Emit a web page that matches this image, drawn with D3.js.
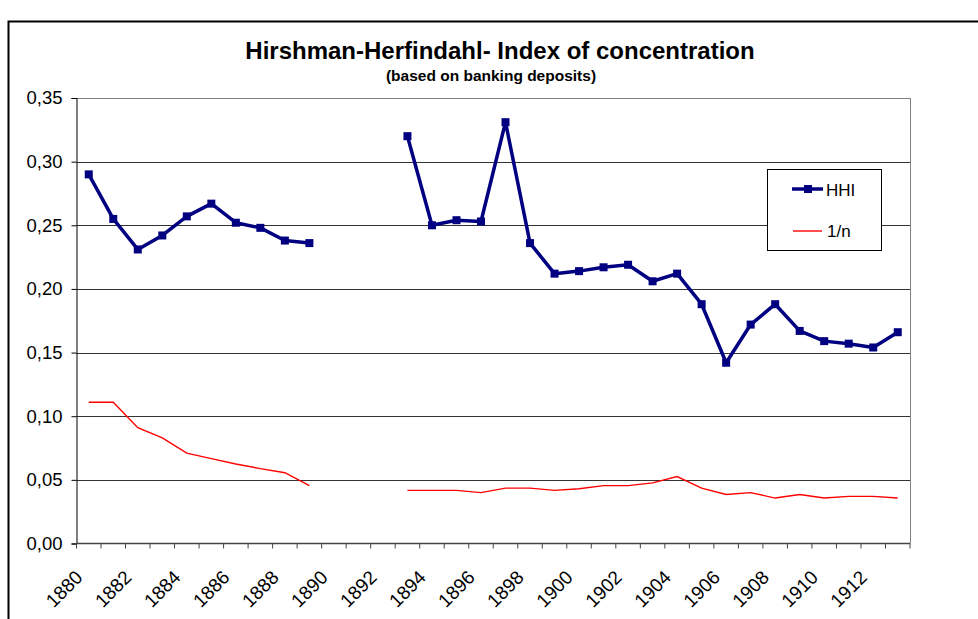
<!DOCTYPE html>
<html>
 <head>
    <title>Hirshman-Herfindahl Index</title>
    <script src="https://d3js.org/d3.v7.min.js"></script>
    <style>
      body { margin: 0; background: #fff; }
      text { font-family: "Liberation Sans", Arial, sans-serif; }
    </style>
 </head>
 <body>
    <div id="chart"></div>
    <script>
      // years on the category axis
      var years = d3.range(1880, 1914);

      // HHI values (null = no data)
      var hhi = [0.290, 0.255, 0.231, 0.242, 0.257, 0.267, 0.252, 0.248, 0.238, 0.236,
                 null, null, null,
                 0.320, 0.250, 0.254, 0.253, 0.331, 0.236, 0.212, 0.214, 0.217, 0.219, 0.206,
                 0.212, 0.188, 0.142, 0.172, 0.188, 0.167, 0.159, 0.157, 0.154, 0.166];

      // 1/n values
      var inverseN = [0.111, 0.111, 0.091, 0.083, 0.071, 0.0667, 0.0625, 0.0588, 0.0556, 0.0455,
                      null, null, null,
                      0.0417, 0.0417, 0.0417, 0.040, 0.0435, 0.0435, 0.0417, 0.0430, 0.0455, 0.0455, 0.0476,
                      0.0526, 0.0435, 0.0385, 0.040, 0.0357, 0.0385, 0.0357, 0.037, 0.037, 0.0357];

      var yTicks = [0, 0.05, 0.10, 0.15, 0.20, 0.25, 0.30, 0.35];
      var xLabels = years.filter(function (d) { return d % 2 === 0; });

      var width = 978;
      var height = 619;
      var plot = { left: 76.5, right: 910, top: 98, bottom: 543.5 };

      var svg = d3.select("#chart")
        .append("svg")
        .attr("width", width)
        .attr("height", height);

      // outer frame of the chart
      svg.append("rect")
        .attr("x", 8.5)
        .attr("y", 21.5)
        .attr("width", 1000)
        .attr("height", 700)
        .attr("fill", "none")
        .attr("stroke", "#000")
        .attr("stroke-width", 2);

      var x = d3.scaleBand()
        .domain(years)
        .range([plot.left, plot.right]);

      var y = d3.scaleLinear()
        .domain([0, 0.35])
        .range([plot.bottom, plot.top]);

      // gridlines
      svg.append("g")
        .selectAll("line")
        .data(yTicks.filter(function (d) { return d > 0; }))
        .enter()
        .append("line")
        .attr("x1", plot.left)
        .attr("x2", plot.right)
        .attr("y1", function (d) { return Math.round(y(d)) + 0.5; })
        .attr("y2", function (d) { return Math.round(y(d)) + 0.5; })
        .attr("stroke", function (d) { return d === 0.35 ? "#808080" : "#333"; })
        .attr("stroke-width", 1);

      // right border of plot area
      svg.append("line")
        .attr("x1", plot.right + 0.5)
        .attr("x2", plot.right + 0.5)
        .attr("y1", plot.top)
        .attr("y2", plot.bottom)
        .attr("stroke", "#808080");

      // y axis
      var yAxis = svg.append("g")
        .attr("transform", "translate(" + plot.left + ",0)")
        .call(d3.axisLeft(y)
          .tickValues(yTicks)
          .tickSize(5)
          .tickPadding(9)
          .tickFormat(function (d) { return d3.format(".2f")(d).replace(".", ","); }));
      yAxis.select(".domain").attr("stroke", "#000");
      yAxis.selectAll(".tick line").attr("stroke", "#000");
      yAxis.selectAll("text")
        .attr("font-size", "18.5px")
        .attr("font-family", "Liberation Sans, Arial, sans-serif")
        .attr("fill", "#000");

      // x axis line and ticks between categories
      var xAxis = svg.append("g");
      xAxis.append("line")
        .attr("x1", plot.left)
        .attr("x2", plot.right)
        .attr("y1", plot.bottom)
        .attr("y2", plot.bottom)
        .attr("stroke", "#444")
        .attr("stroke-width", 1.5);
      xAxis.selectAll(".xtick")
        .data(years.concat([null]))
        .enter()
        .append("line")
        .attr("class", "xtick")
        .attr("x1", function (d) { return d === null ? plot.right : x(d); })
        .attr("x2", function (d) { return d === null ? plot.right : x(d); })
        .attr("y1", plot.bottom)
        .attr("y2", plot.bottom + 5)
        .attr("stroke", "#444");
      xAxis.selectAll(".xlabel")
        .data(xLabels)
        .enter()
        .append("text")
        .attr("class", "xlabel")
        .attr("text-anchor", "end")
        .attr("font-size", "19px")
        .attr("transform", function (d) {
          return "translate(" + (x(d) + x.bandwidth() / 2 - 5) + "," + (plot.bottom + 35) + ") rotate(-45)";
        })
        .text(function (d) { return d; });

      // lines
      var hhiData = years.map(function (d, i) { return { year: d, v: hhi[i] }; });
      var invData = years.map(function (d, i) { return { year: d, v: inverseN[i] }; });

      var line = d3.line()
        .defined(function (d) { return d.v !== null; })
        .x(function (d) { return x(d.year) + x.bandwidth() / 2; })
        .y(function (d) { return y(d.v); });

      svg.append("path")
        .datum(invData)
        .attr("d", line)
        .attr("fill", "none")
        .attr("stroke", "#ff0000")
        .attr("stroke-width", 1.4);

      svg.append("path")
        .datum(hhiData)
        .attr("d", line)
        .attr("fill", "none")
        .attr("stroke", "#000080")
        .attr("stroke-width", 3.5)
        .attr("stroke-linejoin", "round");

      svg.selectAll(".marker")
        .data(hhiData.filter(function (d) { return d.v !== null; }))
        .enter()
        .append("rect")
        .attr("class", "marker")
        .attr("x", function (d) { return x(d.year) + x.bandwidth() / 2 - 4; })
        .attr("y", function (d) { return y(d.v) - 4; })
        .attr("width", 8)
        .attr("height", 8)
        .attr("fill", "#000080");

      // title
      svg.append("text")
        .attr("x", 500)
        .attr("y", 59)
        .attr("text-anchor", "middle")
        .attr("font-size", "24px")
        .attr("font-weight", "bold")
        .text("Hirshman-Herfindahl- Index of concentration");
      svg.append("text")
        .attr("x", 491)
        .attr("y", 81)
        .attr("text-anchor", "middle")
        .attr("font-size", "15.5px")
        .attr("font-weight", "bold")
        .text("(based on banking deposits)");

      // legend
      var legend = svg.append("g");
      legend.append("rect")
        .attr("x", 767.5)
        .attr("y", 169.5)
        .attr("width", 114)
        .attr("height", 81)
        .attr("fill", "#fff")
        .attr("stroke", "#000");
      legend.append("line")
        .attr("x1", 792).attr("x2", 823)
        .attr("y1", 189).attr("y2", 189)
        .attr("stroke", "#000080")
        .attr("stroke-width", 3.5);
      legend.append("rect")
        .attr("x", 804).attr("y", 185)
        .attr("width", 8).attr("height", 8)
        .attr("fill", "#000080");
      legend.append("text")
        .attr("x", 826).attr("y", 196)
        .attr("font-size", "17px")
        .text("HHI");
      legend.append("line")
        .attr("x1", 793).attr("x2", 822)
        .attr("y1", 231).attr("y2", 231)
        .attr("stroke", "#ff0000")
        .attr("stroke-width", 1.4);
      legend.append("text")
        .attr("x", 827).attr("y", 237)
        .attr("font-size", "17px")
        .text("1/n");
    </script>
 </body>
</html>
